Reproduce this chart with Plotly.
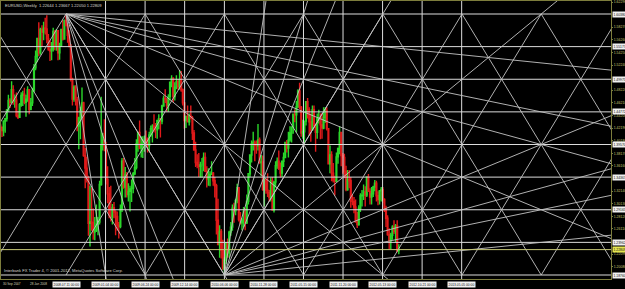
import pandas as pd
import plotly.graph_objects as go

# ---------------- data (EURUSD weekly, prices in 1e-4 units) ----------------
start_week = "2007-09-30"
opens = [14265,14225,14180,14330,14370,14505,14660,14630,14830,14650,
         14665,14420,14390,14590,14740,14760,14630,14680,14830,14520,
         14620,14810,15180,15360,15650,15420,15790,15750,15810,15800,
         15640,15470,15450,15480,15760,15540,15770,15420,15530,15790,
         15640,15930,15860,15700,15520,15000,14680,14870,14670,14250,
         14380,14500,14620,13780,13580,13420,12700,12720,12710,12560,
         12590,12690,12720,13320,13950,14030,13920,13400,13170,12830,
         12800,12950,12880,12810,12670,12650,12930,13690,13280,13480,
         13160,13210,13250,13260,13490,13590,13970,14150,13900,13960,
         13960,14040,13980,13940,14110,14210,14250,14190,14190,14340,
         14370,14330,14570,14690,14680,14580,14720,14950,15010,14720,
         14870,14960,14880,14990,14830,14620,14340,14400,14320,14410,
         14380,14140,13870,13670,13630,13610,13630,13630,13750,13530,
         13410,13450,13480,13500,13380,13300,12750,12360,12570,12270,
         11970,12110,12390,12230,12560,12640,12940,12900,13060,13270,
         12760,12710,12750,12890,12710,13050,13490,13790,13970,13990,
         13950,13940,14030,13670,13680,13240,13400,13230,13190,13110,
         13380,12910,13360,13620,13690,13580,13500,13690,13750,13990,
         13900,14030,14140,14230,14440,14430,14560,14810,14550,14140,
         14160,14330,14640,14510,14320,14190,14510,14260,14150,14370,
         14390,14270,14220,14390,14490,14210,13650,13790,13500,13390,
         13370,13760,13890,14150,13780,13750,13530,13240,13400,13380,
         13050,13050,12960,12720,12680,12940,13140,13150,13200,13150,
         13440,13210,13120,13170,13280,13340,13140,13080,13220,13240,
         13080,12910,12780,12520,12420,12510,12640,12570,12660,12264]
highs = [14290,14250,14345,14380,14525,14750,14695,14967,14900,14755,
         14785,14490,14620,14790,14815,14860,14750,14885,14840,14700,
         14860,15240,15455,15660,15905,15820,15860,15915,15980,16019,
         15720,15620,15590,15820,15780,15800,15780,15580,15800,15940,
         15950,16038,15870,15780,15560,15020,14900,14900,14720,14400,
         14560,14867,14640,13900,13760,13460,13300,13270,12940,12800,
         13000,12800,13380,14720,14140,14360,14000,13610,13280,13300,
         13010,13040,12910,12890,12720,13000,13740,13740,13600,13520,
         13340,13300,13400,13520,13740,14040,14160,14340,14090,14090,
         14100,14180,14070,14160,14260,14280,14440,14300,14340,14440,
         14380,14590,14740,14840,14700,14760,14960,15060,15030,14950,
         15060,15000,15144,15130,14850,14630,14420,14580,14450,14580,
         14410,14190,14000,13800,13820,13680,13740,13830,13830,13610,
         13580,13530,13690,13520,13440,13330,13090,12670,12610,12440,
         12160,12400,12460,12580,12720,13000,13030,13090,13333,13270,
         12880,12780,12960,12940,13160,13500,13800,14020,14160,14020,
         14020,14282,14070,13790,13780,13420,13400,13500,13230,13430,
         13440,13370,13690,13750,13860,13670,13700,13830,14000,14030,
         14160,14250,14250,14450,14520,14650,14840,14940,14570,14350,
         14340,14650,14700,14550,14450,14580,14580,14290,14450,14510,
         14450,14460,14550,14550,14550,14220,13940,13850,13660,13460,
         13830,13910,14247,14160,13820,13810,13620,13550,13550,13440,
         13160,13120,13080,12880,12990,13180,13230,13320,13290,13450,
         13486,13260,13280,13300,13390,13380,13210,13200,13280,13280,
         13100,12980,12830,12620,12550,12670,12750,12690,12750,12367]
lows = [14055,14075,14090,14145,14325,14480,14540,14620,14590,14545,
        14390,14365,14380,14560,14570,14600,14400,14640,14440,14505,
        14570,14800,15140,15270,15370,15390,15515,15620,15710,15570,
        15450,15290,15300,15440,15460,15450,15300,15310,15510,15615,
        15630,15840,15580,15520,14960,14580,14640,14580,14170,13880,
        14040,14370,13760,13260,13350,12500,12330,12580,12440,12430,
        12560,12510,12680,13300,13860,13850,13320,13020,12780,12730,
        12680,12780,12510,12580,12457,12620,12880,13250,13110,13110,
        13050,12890,13040,13180,13470,13560,13840,13880,13750,13740,
        13840,13930,13830,13850,14080,13990,14150,14060,14050,14200,
        14070,14280,14560,14620,14480,14480,14660,14870,14630,14660,
        14840,14830,14830,14800,14580,14210,14220,14310,14260,14360,
        14030,13860,13600,13580,13440,13430,13430,13530,13520,13270,
        13300,13290,13470,13300,13110,12520,12360,12150,12140,11960,
        11876,12050,12150,12150,12500,12580,12710,12830,13020,12730,
        12680,12590,12640,12590,12690,13000,13440,13670,13860,13690,
        13810,13860,13650,13450,13220,12970,13170,13120,13050,13050,
        12900,12873,13270,13570,13550,13430,13440,13600,13740,13830,
        13750,14000,13990,14130,14310,14150,14540,14520,14080,14050,
        13970,14260,14370,14100,14000,14180,14230,13840,14050,14290,
        14040,14050,14200,14300,14180,13640,13500,13370,13350,13145,
        13360,13650,13800,13610,13490,13420,13210,13220,13260,12950,
        12990,12860,12720,12624,12660,12880,12970,13070,12970,13120,
        13200,13000,13000,13120,13210,13050,12990,13000,13050,13020,
        12880,12640,12500,12290,12290,12440,12530,12400,12240,12205]
closes = [14225,14180,14330,14370,14505,14660,14630,14830,14650,14665,
          14420,14390,14590,14740,14760,14630,14680,14830,14520,14620,
          14810,15180,15360,15650,15420,15790,15750,15810,15800,15640,
          15470,15450,15480,15760,15540,15770,15420,15530,15790,15640,
          15930,15860,15700,15520,15000,14680,14870,14670,14250,14380,
          14500,14620,13780,13580,13420,12700,12720,12710,12560,12590,
          12690,12720,13320,13950,14030,13920,13400,13170,12830,12800,
          12950,12880,12810,12670,12650,12930,13690,13280,13480,13160,
          13210,13250,13260,13490,13590,13970,14150,13900,13960,13960,
          14040,13980,13940,14110,14210,14250,14190,14190,14340,14370,
          14330,14570,14690,14680,14580,14720,14950,15010,14720,14870,
          14960,14880,14990,14830,14620,14340,14400,14320,14410,14380,
          14140,13870,13670,13630,13610,13630,13630,13750,13530,13410,
          13450,13480,13500,13380,13300,12750,12360,12570,12270,11970,
          12110,12390,12230,12560,12640,12940,12900,13060,13270,12760,
          12710,12750,12890,12710,13050,13490,13790,13970,13990,13950,
          13940,14030,13670,13680,13240,13400,13230,13190,13110,13380,
          12910,13360,13620,13690,13580,13500,13690,13750,13990,13900,
          14030,14140,14230,14440,14430,14560,14810,14550,14140,14160,
          14330,14640,14510,14320,14190,14510,14260,14150,14370,14390,
          14270,14220,14390,14490,14210,13650,13790,13500,13390,13370,
          13760,13890,14150,13780,13750,13530,13240,13400,13380,13050,
          13050,12960,12720,12680,12940,13140,13150,13200,13150,13440,
          13210,13120,13170,13280,13340,13140,13080,13220,13240,13080,
          12910,12780,12520,12420,12510,12640,12570,12660,12265,12281]

# Gann construction anchors (major high and major low)
hi_date, hi_price = "2008-07-13", 1.60380
lo_date, lo_price = "2010-06-06", 1.18760
gann_ratios = [1/8, 1/4, 1/3, 1/2, 1, 2, 3, 4, 8]

# vertical line objects (first one has no visible line, only its label)
vline_dates = ["2008-07-13", "2009-01-02", "2009-06-24", "2009-12-14", "2010-06-06",
               "2010-11-26", "2011-05-18", "2011-11-07", "2012-04-28", "2012-10-18",
               "2013-04-09"]
vline_labels = ["2008.07.11 00:00", "2009.01.04 00:00", "2009.06.24 00:00", "2009.12.14 00:00",
                "2010.06.06 00:00", "2010.11.28 00:00", "2011.05.15 00:00", "2011.11.20 00:00",
                "2012.05.13 00:00", "2012.10.21 00:00", "2013.05.05 00:00"]

# price-scale labels that are not hidden behind the line labels
price_ticks = [1.62290, 1.58270, 1.56260, 1.54250, 1.52240, 1.48220,
               1.46210, 1.44200, 1.42190, 1.40180, 1.38170, 1.36160, 1.32140,
               1.30130, 1.28120, 1.26110, 1.22090, 1.20080, 1.18070]

time_tick_dates = ["2007-09-30", "2008-01-27"]
time_tick_text = ["30 Sep 2007", "28 Jan 2008"]

title_text = "EURUSD,Weekly  1.22644 1.23667 1.22050 1.22809"
copyright_text = "Interbank FX Trader 4, \u00a9 2001-2012, MetaQuotes Software Corp."
bid_price = 1.22809

# ---------------- figure ----------------
SC = 1e-4
dates = pd.date_range(start_week, periods=len(closes), freq="7D")

fig = go.Figure()
fig.add_trace(go.Candlestick(
    x=dates, open=[v * SC for v in opens], high=[v * SC for v in highs],
    low=[v * SC for v in lows], close=[v * SC for v in closes],
    increasing=dict(line=dict(color="#2ad62a", width=1.4), fillcolor="#2ad62a"),
    decreasing=dict(line=dict(color="#e01a1a", width=1.4), fillcolor="#e01a1a"),
    whiskerwidth=0, showlegend=False, hoverinfo="skip"))

h_d, l_d = pd.Timestamp(hi_date), pd.Timestamp(lo_date)
col_step = (l_d - h_d) / 4
row_step = (hi_price - lo_price) / 8


def pt(c, r):
    return (h_d + col_step * c).isoformat(), hi_price - row_step * r


def add_seg(xs, ys, a, b):
    x0, y0 = pt(*a)
    x1, y1 = pt(*b)
    xs += [x0, x1, None]
    ys += [y0, y1, None]


# horizontal levels and vertical lines
hx, hy = [], []
x_far0, x_far1 = pt(-3, 0)[0], pt(16, 0)[0]
for r in range(9):
    p = hi_price - row_step * r
    hx += [x_far0, x_far1, None]
    hy += [p, p, None]
for d in vline_dates[1:]:
    hx += [d, d, None]
    hy += [1.0, 1.8, None]
fig.add_trace(go.Scatter(x=hx, y=hy, mode="lines", line=dict(color="#dcdcdc", width=1),
                         hoverinfo="skip", showlegend=False))

# diamond lattice (2 rows per column)
dx, dy = [], []
for k in range(-7, 2):
    add_seg(dx, dy, (-2 * k, 0), (4 - 2 * k, 8))
for k in range(0, 9):
    add_seg(dx, dy, (2 * k - 4, 8), (2 * k, 0))
# Gann fans from the high and from the low
for g in gann_ratios:
    add_seg(dx, dy, (0, 0), (16, 16 * g))
    add_seg(dx, dy, (4, 8), (20, 8 - 16 * g))
fig.add_trace(go.Scatter(x=dx, y=dy, mode="lines", line=dict(color="#c4c4c4", width=0.9),
                         hoverinfo="skip", showlegend=False))

# bid line
fig.add_trace(go.Scatter(x=[x_far0, x_far1], y=[bid_price, bid_price], mode="lines",
                         line=dict(color="#c8c878", width=1), hoverinfo="skip", showlegend=False))

# axis calibration (px -> data)
PXW = 1.6          # px per weekly bar
first_px = 0.4     # image x of first bar
d0 = pd.Timestamp(start_week)
x_lo = d0 + pd.Timedelta(weeks=(1 - first_px) / PXW)
x_hi = d0 + pd.Timedelta(weeks=(611 - first_px) / PXW)

axis_col = "#7d7d3c"
lab_col = "#c8c86e"
FONT = "Liberation Sans"

fig.update_layout(
    width=625, height=289,
    margin=dict(l=1, r=14, t=1, b=10, autoexpand=False),
    paper_bgcolor="black", plot_bgcolor="black", showlegend=False,
    font=dict(family=FONT, size=4, color=lab_col),
    xaxis=dict(type="date", range=[x_lo, x_hi], showgrid=False, zeroline=False,
               showticklabels=False, showline=True, mirror=True, linecolor=axis_col,
               linewidth=1, rangeslider=dict(visible=False), fixedrange=True),
    yaxis=dict(range=[1.18122, 1.62453], side="right", showgrid=False, zeroline=False,
               tickvals=price_ticks, ticktext=[f"{v:.5f}" for v in price_ticks],
               ticks="outside", ticklen=1, tickcolor=axis_col,
               tickfont=dict(family=FONT, size=3.5, color=lab_col),
               showline=True, mirror=True, linecolor=axis_col, linewidth=1, fixedrange=True),
)

ann = []
# regular time labels (clamped to the visible time range)
for d, t in zip(time_tick_dates, time_tick_text):
    xd = max(pd.Timestamp(d), x_lo)
    ann.append(dict(x=xd.isoformat(), xref="x", y=-0.018, yref="paper", text=t, showarrow=False,
                    xanchor="left", yanchor="middle",
                    font=dict(family=FONT, size=3.1, color="#d2d2b4")))
# vertical line labels (boxes)
for d, t in zip(vline_dates, vline_labels):
    ann.append(dict(x=d, xref="x", y=-0.018, yref="paper", text=t, showarrow=False,
                    xanchor="center", yanchor="middle", bgcolor="#f0f0f0", borderpad=0.6,
                    font=dict(family=FONT, size=3.3, color="#101010")))
# horizontal line labels (boxes on price axis)
for r in range(9):
    p = hi_price - row_step * r
    ann.append(dict(x=1.0, xref="paper", xshift=1, y=p, yref="y", text=f"{p:.5f}",
                    showarrow=False, xanchor="left", yanchor="middle",
                    bgcolor="#f0f0f0", borderpad=0.5,
                    font=dict(family=FONT, size=3.4, color="#101010")))
ann.append(dict(x=1.0, xref="paper", xshift=1, y=bid_price, yref="y", text=f"{bid_price:.5f}",
                showarrow=False, xanchor="left", yanchor="middle", bgcolor="#e6e650",
                borderpad=0.5, font=dict(family=FONT, size=3.4, color="#101010")))
# chart title and copyright
ann.append(dict(x=0.004, xref="paper", y=0.985, yref="paper", text=title_text, showarrow=False,
                xanchor="left", yanchor="middle", font=dict(family=FONT, size=4.1, color="#d8d8d0")))
ann.append(dict(x=0.002, xref="paper", y=0.03, yref="paper", text=copyright_text, showarrow=False,
                xanchor="left", yanchor="middle", font=dict(family=FONT, size=4.1, color="#d8d8d0")))
fig.update_layout(annotations=ann)

fig.write_html("out.html")
